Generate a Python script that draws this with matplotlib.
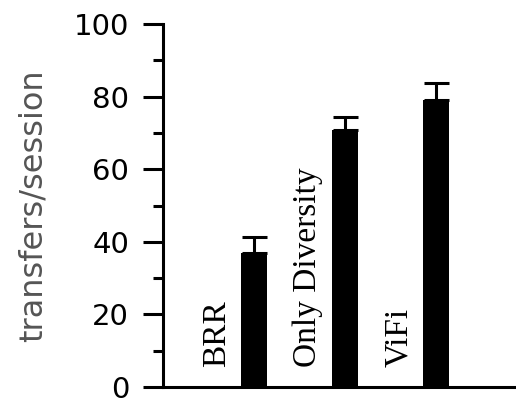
import matplotlib
matplotlib.use("Agg")
import matplotlib.pyplot as plt
from matplotlib.ticker import MultipleLocator

categories = ["BRR", "Only Diversity", "ViFi"]
values = [36.9, 70.8, 79.1]
err_upper = [4.4, 3.6, 4.6]
yticks = [0, 20, 40, 60, 80, 100]

W, H = 516, 401
fig = plt.figure(figsize=(W / 100, H / 100), dpi=100)
ax = fig.add_axes([163 / W, 1 - 387 / H, (515 - 163) / W, (387 - 24) / H])

x = list(range(len(categories)))
ax.bar(x, values, width=0.28, color="black", zorder=2)
ax.errorbar(x, values, yerr=[[0] * len(values), err_upper], fmt="none",
            ecolor="black", elinewidth=2.2, capsize=9, capthick=2.2, zorder=1)

for xi, lab in zip(x, categories):
    ax.text(xi - 0.405, 5.5, lab, rotation=90, ha="center", va="bottom",
            fontsize=24, family=["Liberation Serif", "DejaVu Serif"], color="black")

ax.set_xlim(-1.0, 2.87)
ax.set_ylim(0, 100)
ax.set_yticks(yticks)
ax.set_yticklabels([str(t) for t in yticks])
ax.yaxis.set_minor_locator(MultipleLocator(10))
ax.set_xticks([])

for s in ["top", "right"]:
    ax.spines[s].set_visible(False)
for s in ["left", "bottom"]:
    ax.spines[s].set_linewidth(2.2)

ax.tick_params(axis="y", which="major", length=14.4, width=2.2, pad=10,
               labelsize=21, direction="out")
ax.tick_params(axis="y", which="minor", length=7.2, width=2.2, direction="out")

fig.text(33 / W, 1 - 206 / H, "transfers/session", rotation=90, ha="center",
         va="center", fontsize=23, color="#555555")

fig.savefig("out.png", dpi=100)
